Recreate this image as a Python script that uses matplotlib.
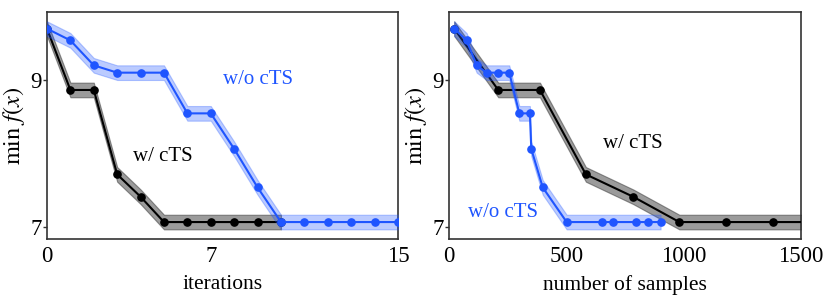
import numpy as np
import matplotlib
matplotlib.use("Agg")
import matplotlib.pyplot as plt

plt.rcParams['font.family'] = ['Liberation Serif', 'DejaVu Serif']
plt.rcParams['mathtext.fontset'] = 'stix'

# Left panel: iterations
iters_wo = list(range(16))
vals_wo = [9.70, 9.54, 9.20, 9.10, 9.10, 9.10, 8.545, 8.545, 8.06, 7.535,
           7.063, 7.063, 7.063, 7.063, 7.063, 7.063]
iters_w = list(range(11))
vals_w = [9.70, 8.864, 8.864, 7.713, 7.408, 7.063, 7.063, 7.063, 7.063, 7.063, 7.063]

# Right panel: number of samples
samples_wo = [21, 74, 117, 159, 209, 256, 299, 344, 350, 399, 501, 650, 700, 797, 849, 902]
samples_w = [21, 209, 387, 583, 785, 982, 1181, 1380, 1579]
vals_w_samples = [9.70, 8.864, 8.864, 7.713, 7.408, 7.063, 7.063, 7.063, 7.063]

band = 0.1
BLUE = '#1f55ff'
BLACK = '#000000'
SPINE = '#333333'

fig = plt.figure(figsize=(8.3, 2.98), dpi=100)
ax1 = fig.add_axes([0.0566, 0.198, 0.4229, 0.7617])
ax2 = fig.add_axes([0.5413, 0.198, 0.4234, 0.7617])


def draw(ax, x, y, color, bandcolor, alpha, z):
    x = np.asarray(x, float)
    y = np.asarray(y, float)
    ax.fill_between(x, y - band, y + band, color=bandcolor, alpha=alpha,
                    linewidth=0.8, zorder=z)
    ax.plot(x, y, '-o', color=color, lw=1.5, ms=5.2, zorder=z + 1)


draw(ax1, iters_w, vals_w, BLACK, '#222222', 0.45, 2)
draw(ax1, iters_wo, vals_wo, BLUE, BLUE, 0.3, 4)
draw(ax2, samples_w, vals_w_samples, BLACK, '#222222', 0.45, 2)
draw(ax2, samples_wo, vals_wo, BLUE, BLUE, 0.3, 4)

for ax in (ax1, ax2):
    ax.set_ylim(6.832, 9.927)
    ax.set_yticks([7, 9])
    ax.set_ylabel(r'$\mathrm{min}\ f(x)$', fontsize=17.5, labelpad=2)
    ax.tick_params(axis='y', length=3, width=1, colors=SPINE, labelcolor='black',
                   labelsize=16.5, pad=1)
    ax.tick_params(axis='x', length=0, labelsize=16.5, pad=5)
    for s in ax.spines.values():
        s.set_color(SPINE)
        s.set_linewidth(1.2)

ax1.set_xlim(0, 15)
ax1.set_xticks([0, 7, 15])
ax1.set_xlabel('iterations', fontsize=15.5, labelpad=6)
ax2.set_xlim(0, 1500)
ax2.set_xticks([0, 500, 1000, 1500])
ax2.set_xlabel('number of samples', fontsize=15.5, labelpad=6)

ax1.text(9.0, 9.0, 'w/o cTS', color=BLUE, fontsize=15, ha='center', va='center')
ax1.text(4.97, 7.96, 'w/ cTS', color=BLACK, fontsize=15, ha='center', va='center')
ax2.text(785, 8.14, 'w/ cTS', color=BLACK, fontsize=15, ha='center', va='center')
ax2.text(230, 7.195, 'w/o cTS', color=BLUE, fontsize=15, ha='center', va='center')

fig.savefig('out.png', dpi=100)
